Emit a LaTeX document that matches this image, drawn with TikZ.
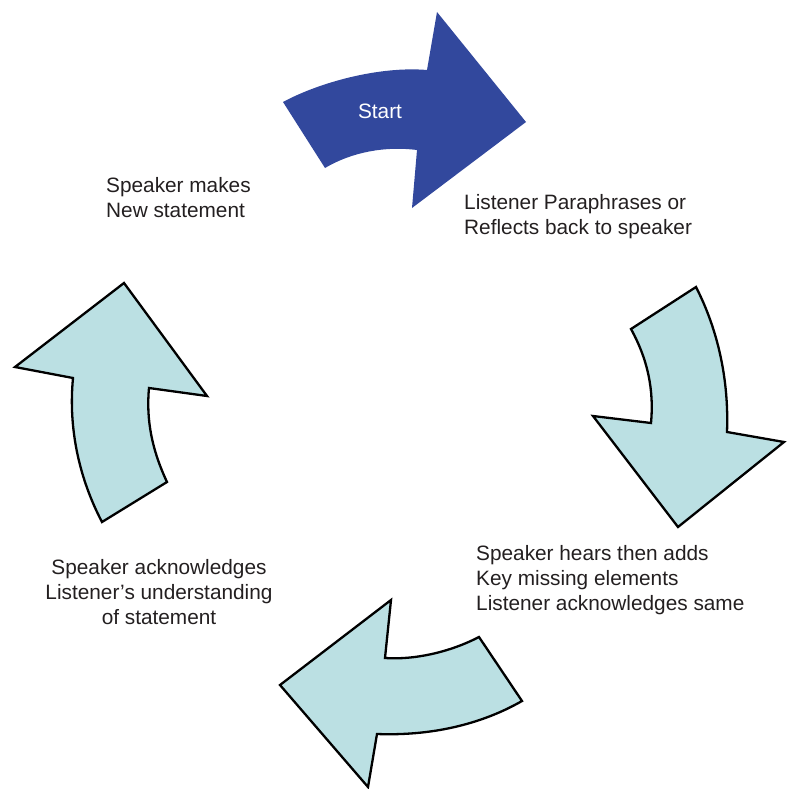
\documentclass[tikz,border=0pt]{standalone}
\usepackage{fontspec}
\setmainfont{Liberation Sans}
\definecolor{startblue}{RGB}{50,72,157}
\definecolor{lightcyan}{RGB}{187,224,227}
\definecolor{txtgray}{RGB}{35,31,32}
\begin{document}
\begin{tikzpicture}[x=1pt,y=-1pt,
  cyanarrow/.style={fill=lightcyan,draw=black,line width=2.3pt,line join=miter},
  bluearrow/.style={fill=startblue},
  label/.style={text=txtgray,font=\fontsize{20.8}{25}\selectfont,inner sep=0pt}]
\useasboundingbox (0,0) rectangle (787,789);
% top (start) arrow
\fill[bluearrow] (283,102) .. controls (320,82) and (380,66) .. (427,70)
  -- (437,12) -- (526,122) -- (412,208) -- (417,150)
  .. controls (385,146) and (352,152) .. (325,168) -- cycle;
\node[label,text=white] (start) at (380,111) {Start};
% right arrow
\draw[cyanarrow] (631,329) -- (696,287)
  .. controls (718,330) and (729,380) .. (727,432)
  -- (784,442) -- (678,527) -- (593,416) -- (651,423)
  .. controls (654,390) and (648,360) .. (631,329) -- cycle;
% bottom arrow
\draw[cyanarrow] (479,637) -- (522,701)
  .. controls (480,725) and (430,736) .. (377,734)
  -- (368,787) -- (280,685) -- (391,600) -- (385,658)
  .. controls (415,660) and (450,652) .. (479,637) -- cycle;
% left arrow
\draw[cyanarrow] (102,522) -- (167,482)
  .. controls (152,450) and (146,420) .. (149,388)
  -- (207,396) -- (124,283) -- (15,367) -- (73,378)
  .. controls (68,430) and (80,480) .. (102,522) -- cycle;
% labels
\node[label,align=left,anchor=west] (newstmt) at (106,198) {Speaker makes\\New statement};
\node[label,align=left,anchor=west] (para) at (464,217) {Listener Paraphrases or\\Reflects back to speaker};
\node[label,align=left,anchor=west] (hears) at (476,580) {Speaker hears then adds\\Key missing elements\\Listener acknowledges same};
\node[label,align=center] (ack) at (159,592) {Speaker acknowledges\\Listener’s understanding\\of statement};
\end{tikzpicture}
\end{document}
